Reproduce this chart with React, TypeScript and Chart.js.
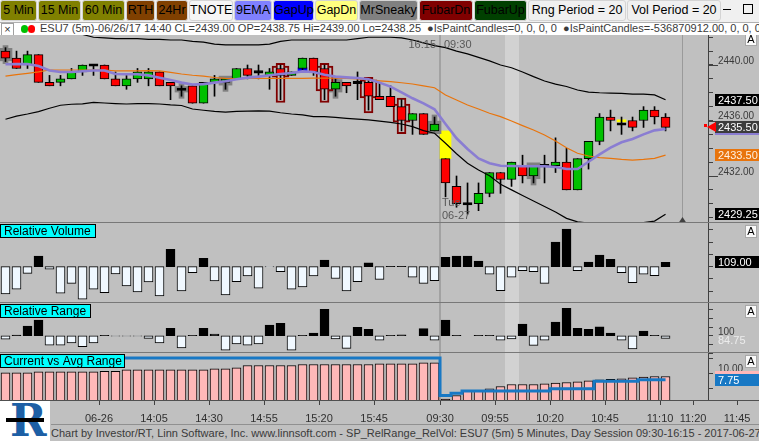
import React, { useEffect, useRef } from 'react';
import { Chart, registerables } from 'chart.js';

Chart.register(...registerables);

const FONT = '"Liberation Sans", Arial, sans-serif';

// ---------------- data (bar index 0 .. 60, 5-minute bars) ----------------
const OPEN = [
  2441.0, 2440.5, 2440.0, 2440.75, 2438.75, 2438.75, 2439.0, 2439.5, 2440.0, 2440.0,
  2439.0, 2438.5, 2439.0, 2439.0, 2439.5, 2438.75, 2438.25, 2438.5, 2437.25, 2438.75,
  2438.75, 2439.0, 2439.75, 2439.5, 2439.25, 2439.75, 2439.25, 2439.75, 2440.5, 2439.75,
  2438.25, 2438.75, 2438.75, 2438.75, 2437.75, 2437.75, 2437.0, 2436.0, 2436.5, 2435.25,
  2433.25, 2431.25, 2430.0, 2430.0, 2430.75, 2432.25, 2431.75, 2432.75, 2432.0, 2432.75,
  2432.75, 2433.0, 2431.0, 2433.25, 2434.5, 2436.25, 2435.75, 2436.0, 2436.0, 2436.75,
  2436.25,
];
const HIGH = [
  2441.25, 2441.0, 2441.0, 2440.75, 2439.25, 2439.25, 2439.75, 2440.0, 2440.0, 2440.0,
  2439.5, 2439.25, 2439.75, 2439.75, 2439.5, 2438.75, 2438.5, 2438.5, 2438.75, 2439.25,
  2439.0, 2439.75, 2440.0, 2440.0, 2439.75, 2440.0, 2439.5, 2440.5, 2440.5, 2440.0,
  2439.0, 2438.75, 2439.5, 2439.0, 2438.75, 2438.5, 2437.5, 2436.5, 2436.5, 2436.25,
  2433.25, 2432.0, 2431.5, 2431.5, 2432.25, 2432.25, 2433.0, 2433.5, 2432.75, 2433.5,
  2434.75, 2434.0, 2433.25, 2434.5, 2436.5, 2436.75, 2436.25, 2436.25, 2437.0, 2437.0,
  2436.5,
];
const LOW = [
  2440.25, 2439.75, 2439.75, 2438.75, 2438.5, 2438.5, 2439.0, 2439.25, 2439.25, 2439.0,
  2438.5, 2438.25, 2438.75, 2438.5, 2438.5, 2437.5, 2437.75, 2437.25, 2437.25, 2437.75,
  2438.25, 2439.0, 2439.0, 2439.0, 2438.25, 2437.5, 2439.25, 2439.5, 2439.25, 2437.5,
  2437.75, 2438.0, 2437.5, 2436.75, 2437.5, 2437.0, 2435.25, 2435.0, 2435.0, 2435.25,
  2430.5, 2429.75, 2429.25, 2429.5, 2430.5, 2430.75, 2431.25, 2431.5, 2431.5, 2431.5,
  2432.25, 2431.0, 2431.0, 2432.5, 2434.25, 2435.25, 2435.0, 2435.25, 2435.5, 2435.75,
  2435.25,
];
const CLOSE = [
  2440.5, 2439.75, 2440.75, 2438.75, 2438.5, 2439.0, 2439.5, 2440.0, 2440.0, 2439.0,
  2438.5, 2439.0, 2439.5, 2439.5, 2438.5, 2438.5, 2438.25, 2437.25, 2438.75, 2439.0,
  2439.0, 2439.75, 2439.25, 2439.5, 2439.5, 2439.25, 2439.5, 2440.5, 2439.5, 2438.25,
  2438.75, 2438.5, 2438.75, 2437.75, 2437.5, 2437.0, 2436.0, 2436.5, 2435.0, 2435.75,
  2431.5, 2430.0, 2430.0, 2430.75, 2432.25, 2431.75, 2433.0, 2432.0, 2432.75, 2432.75,
  2433.0, 2431.0, 2433.25, 2434.5, 2436.25, 2436.0, 2435.75, 2435.5, 2436.75, 2436.25,
  2435.5,
];
const EMA9 = [
  2440.05, 2440.06, 2440.07, 2439.93, 2439.6, 2439.5, 2439.5, 2439.55, 2439.6, 2439.6,
  2439.35, 2439.33, 2439.33, 2439.25, 2439.08, 2438.92, 2438.73, 2438.6, 2438.62, 2438.73,
  2438.83, 2438.97, 2439.09, 2439.16, 2439.26, 2439.35, 2439.42, 2439.54, 2439.5, 2439.3,
  2439.16, 2439.11, 2439.06, 2438.97, 2438.73, 2438.44, 2438.03, 2437.6, 2437.24, 2436.81,
  2435.75, 2434.72, 2433.95, 2433.27, 2432.92, 2432.74, 2432.72, 2432.7, 2432.7, 2432.7,
  2432.65, 2432.5, 2432.5, 2433.03, 2433.56, 2434.04, 2434.43, 2434.67, 2435.0, 2435.29,
  2435.39,
];
const AVG = [
  2439.2, 2439.3, 2439.4, 2439.5, 2439.64, 2439.64, 2439.64, 2439.64, 2439.64, 2439.64,
  2439.58, 2439.57, 2439.57, 2439.6, 2439.58, 2439.47, 2439.35, 2439.26, 2439.2, 2439.1,
  2439.04, 2439.0, 2439.04, 2439.04, 2439.04, 2439.04, 2439.04, 2439.04, 2439.06, 2439.05,
  2439.05, 2439.04, 2438.99, 2438.92, 2438.86, 2438.8, 2438.72, 2438.63, 2438.5, 2438.36,
  2437.84, 2437.48, 2437.12, 2436.83, 2436.52, 2436.28, 2435.96, 2435.63, 2435.32, 2434.95,
  2434.52, 2434.04, 2433.64, 2433.44, 2433.32, 2433.27, 2433.2, 2433.15, 2433.2, 2433.27,
  2433.5,
];
const UPPER = [
  2442.9, 2442.8, 2442.7, 2442.6, 2442.5, 2442.4, 2442.35, 2442.2, 2442.0, 2441.95,
  2441.9, 2441.9, 2441.9, 2441.85, 2441.85, 2441.8, 2441.8, 2441.7, 2441.65, 2441.5,
  2441.45, 2441.45, 2441.45, 2441.45, 2441.5, 2441.7, 2441.8, 2441.8, 2441.8, 2441.8,
  2441.8, 2441.8, 2441.9, 2442.0, 2442.0, 2442.0, 2441.95, 2441.8, 2441.6, 2441.4,
  2441.25, 2441.0, 2440.8, 2440.55, 2440.3, 2440.0, 2439.8, 2439.5, 2439.16, 2438.85,
  2438.62, 2438.45, 2438.2, 2438.05, 2438.0, 2437.98, 2437.95, 2437.9, 2437.9, 2437.85,
  2437.5,
];
const LOWER = [
  2436.09, 2436.32, 2436.47, 2436.64, 2436.88, 2437.1, 2437.17, 2437.2, 2437.31, 2437.26,
  2437.22, 2437.19, 2437.22, 2437.22, 2437.19, 2437.12, 2437.08, 2436.83, 2436.74, 2436.66,
  2436.61, 2436.66, 2436.68, 2436.7, 2436.68, 2436.56, 2436.47, 2436.4, 2436.28, 2436.28,
  2436.23, 2436.16, 2436.1, 2436.04, 2435.96, 2435.87, 2435.75, 2435.56, 2435.27, 2435.08,
  2434.36, 2433.6, 2432.92, 2432.43, 2432.02, 2431.4, 2431.0, 2430.6, 2430.2, 2429.8,
  2429.4, 2428.95, 2428.7, 2428.6, 2428.45, 2428.4, 2428.45, 2428.6, 2428.65, 2428.75,
  2429.25,
];
const REL_VOL = [
  44.5, 54, 86.5, 121.7, 94.7, 46, 66, 33.7, 54, 47,
  85, 60.8, 48.6, 69, 40.4, 135.4, 50.6, 87.8, 117, 71,
  42.5, 69.5, 81, 56, 99.5, 90, 54, 59, 81, 113.6,
  76, 50.6, 69.5, 108, 74, 100.5, 100.5, 78.5, 66, 71.5,
  119, 121.7, 121.7, 111.6, 84.5, 51, 78.5, 92, 90, 66,
  150, 176.6, 92, 109.6, 123.8, 115, 87.8, 67.5, 84.5, 81.7,
  109,
];
const REL_RANGE = [
  80.8, 104, 156, 191, 46, 46, 59, 36, 59, 103,
  97, 97, 97, 85, 59, 143, 30, 103, 143, 110,
  17, 52, 46, 52, 162, 172, 17, 103, 116, 253,
  81, 27, 149, 137, 75, 103, 106, 100, 141, 75,
  191, 103, 100, 103, 103, 75, 81, 168, 44, 75,
  180, 259, 143, 137, 152, 116, 75, 23, 127, 103,
  84.75,
];
const AVG_RANGE = [
  10.07, 10.07, 10.07, 10.4, 10.4, 10.4, 10.4, 10.4, 10.4, 10.6,
  10.6, 11.07, 11.07, 11.07, 11.07, 11.07, 11.07, 11.07, 11.07, 11.4,
  11.4, 11.73, 12.5, 12.5, 12.5, 12.5, 12.5, 12.83, 12.83, 12.83,
  12.83, 12.83, 12.83, 12.83, 13.07, 13.07, 13.07, 13.07, 13.4, 13.4,
  1.3, 2.5, 3.93, 3.93, 4.73, 5.5, 6.17, 6.17, 6.17, 6.4,
  6.6, 6.83, 7.07, 7.4, 7.73, 7.93, 8.07, 8.4, 8.6, 8.83,
  8.83,
];
const DAY_RANGE = [
  15.0, 15.0, 15.0, 15.0, 15.0, 15.0, 15.0, 15.0, 15.0, 15.0,
  15.0, 15.0, 15.0, 15.0, 15.0, 15.0, 15.0, 15.0, 15.0, 15.0,
  15.0, 15.0, 15.0, 15.0, 15.0, 15.0, 15.0, 15.0, 15.0, 15.0,
  15.0, 15.0, 15.0, 15.0, 15.0, 15.0, 15.0, 15.0, 15.0, 15.0,
  2.5, 3.25, 4.0, 4.0, 4.0, 4.0, 4.0, 4.0, 4.0, 4.0,
  4.75, 4.75, 4.75, 4.75, 7.25, 7.25, 7.25, 7.25, 7.75, 7.75,
  7.75,
];
const SNEAKY_BARS = [0, 16, 20, 30, 39, 48];
const FUBAR_DN_BARS = [25, 29, 33, 36];
const GAP_DN_BARS = [40];
const SIGNAL_BARS = [27, 56];
const SIGNAL_LO = [2439.5, 2435.9];
const SIGNAL_HI = [2439.8, 2436.05];
const SIGNAL_COLORS = ['#0000ff', '#ffff00'];

const X_TICK_POS = [8.5, 13.5, 18.5, 23.5, 28.5, 33.5, 39.5, 44.5, 49.5, 54.5, 59.5, 62.5, 66.5];
const X_TICK_LABELS = ['06-26', '14:05', '14:30', '14:55', '15:20', '15:45', '09:30', '09:55', '10:20', '10:45', '11:10', '11:20', '11:45'];
const PRICE_LABEL_EVERY = 4;
const SESSION_BREAK = 39.5;
const CURSOR_BAR = 46;
const NOW_POS = 61.5;

const UP = '#00c000';
const DOWN = '#ff0000';
const PANEL_BG = '#c0c0c0';

function buildConfig(): any {
  const idx = OPEN.map((_, i) => i);
  const lo = idx.map((i) => Math.min(OPEN[i], CLOSE[i]));
  const hi = idx.map((i) => Math.max(OPEN[i], CLOSE[i]));
  const DOJI = 0.09;
  const bodies = idx.map((i) => ({ x: i, y: lo[i] === hi[i] ? [lo[i] - DOJI, hi[i] + DOJI] : [lo[i], hi[i]] }));
  const bodyColors = idx.map((i) => (CLOSE[i] > OPEN[i] ? UP : CLOSE[i] < OPEN[i] ? DOWN : '#000000'));
  const wicks = idx.map((i) => ({ x: i, y: [LOW[i], HIGH[i]] }));
  const sneakyBody = SNEAKY_BARS.map((i) => ({ x: i, y: [lo[i] - 0.2, hi[i] + 0.2] }));
  const sneakyWick = SNEAKY_BARS.map((i) => ({ x: i, y: [LOW[i] - 0.15, HIGH[i] + 0.15] }));
  const fubarBody = FUBAR_DN_BARS.map((i) => ({ x: i, y: [lo[i] - 0.12, hi[i] + 0.18] }));
  const fubarWick = FUBAR_DN_BARS.map((i) => ({ x: i, y: [LOW[i] - 0.2, HIGH[i] + 0.12] }));
  const gaps = GAP_DN_BARS.map((i) => ({ x: i, y: [HIGH[i], LOW[i - 1]] }));
  const signals = SIGNAL_BARS.map((b, k) => ({ x: b, y: [SIGNAL_LO[k], SIGNAL_HI[k]] }));
  const line = (arr: number[]) => arr.map((v, i) => ({ x: i, y: v }));
  const rel = (arr: number[]) => arr.map((v, i) => ({ x: i, y: [100, v] }));
  const relColors = (arr: number[]) => arr.map((v) => (v >= 100 ? '#000000' : '#f0f8ff'));

  const bar = (extra: any) => ({ type: 'bar', grouped: false, borderSkipped: false, ...extra });
  const ln = (extra: any) => ({ type: 'line', pointRadius: 0, tension: 0, order: 0, ...extra });

  const datasets: any[] = [
    ln({ data: line(EMA9), borderColor: '#8a7dd2', borderWidth: 2.6, yAxisID: 'yP' }),
    ln({ data: line(AVG), borderColor: '#e8740c', borderWidth: 1.2, yAxisID: 'yP' }),
    ln({ data: line(UPPER), borderColor: '#000000', borderWidth: 1.2, yAxisID: 'yP' }),
    ln({ data: line(LOWER), borderColor: '#000000', borderWidth: 1.2, yAxisID: 'yP' }),
    bar({ data: bodies, backgroundColor: bodyColors, borderColor: '#000000', borderWidth: 1, barThickness: 9, yAxisID: 'yP', order: 1 }),
    bar({ data: wicks, backgroundColor: '#000000', borderWidth: 0, barThickness: 1, yAxisID: 'yP', order: 2 }),
    bar({ data: fubarWick, backgroundColor: PANEL_BG, borderColor: '#800000', borderWidth: 2, barThickness: 9, yAxisID: 'yP', order: 3 }),
    bar({ data: fubarBody, backgroundColor: PANEL_BG, borderColor: '#800000', borderWidth: 2, barThickness: 17, yAxisID: 'yP', order: 4 }),
    bar({ data: sneakyBody, backgroundColor: '#808080', borderWidth: 0, barThickness: 13, yAxisID: 'yP', order: 5 }),
    bar({ data: sneakyWick, backgroundColor: '#808080', borderWidth: 0, barThickness: 5, yAxisID: 'yP', order: 5 }),
    bar({ data: gaps, backgroundColor: '#ffff00', borderWidth: 0, barThickness: 11, yAxisID: 'yP', order: 6 }),
    bar({ data: signals, backgroundColor: SIGNAL_COLORS, borderWidth: 0, barThickness: 9, yAxisID: 'yP', order: 6 }),
    bar({ data: rel(REL_VOL), backgroundColor: relColors(REL_VOL), borderColor: '#000000', borderWidth: 1, barThickness: 9, yAxisID: 'yRV', order: 1 }),
    bar({ data: rel(REL_RANGE), backgroundColor: relColors(REL_RANGE), borderColor: '#000000', borderWidth: 1, barThickness: 9, yAxisID: 'yRR', order: 1 }),
    ln({ data: line(DAY_RANGE), borderColor: '#1878c4', borderWidth: 3, stepped: 'middle', yAxisID: 'yCV' }),
    bar({ data: AVG_RANGE.map((v, i) => ({ x: i, y: v })), backgroundColor: '#ffb8b8', borderColor: '#000000', borderWidth: 1, barThickness: 9, yAxisID: 'yCV', order: 1 }),
  ];

  const tickFont = { size: 10, family: FONT };
  const rightAxis = (weight: number, min: number, max: number, step: number, label: (v: number) => string) => ({
    type: 'linear',
    position: 'right',
    stack: 'panels',
    stackWeight: weight,
    min,
    max,
    offset: false,
    grid: { drawOnChartArea: false, drawTicks: true, tickLength: 5, tickColor: '#404040', offset: false },
    border: { display: true, color: '#404040' },
    ticks: {
      stepSize: step,
      autoSkip: false,
      includeBounds: false,
      padding: 5,
      labelOffset: -4,
      color: '#3a3a3a',
      font: tickFont,
      callback: (v: number) => label(v),
    },
    afterFit: (s: any) => {
      s.width = 51;
      s.paddingTop = 0;
      s.paddingBottom = 0;
      s.paddingLeft = 0;
      s.paddingRight = 0;
    },
  });

  const valueBox = (ctx: any, a: any, W: number, scale: any, v: number, text: string, bg: string, fg: string) => {
    const y = Math.round(scale.getPixelForValue(v));
    ctx.fillStyle = bg;
    ctx.fillRect(a.right + 7, y - 6, W - a.right - 7, 12);
    if (text) {
      ctx.fillStyle = fg;
      ctx.font = `11px ${FONT}`;
      ctx.textAlign = 'left';
      ctx.textBaseline = 'middle';
      ctx.fillText(text, a.right + 10, y + 0.5);
    }
  };

  const decor = {
    id: 'decor',
    beforeDatasetsDraw(chart: any) {
      const { ctx, chartArea: a, scales } = chart;
      const x = scales.x;
      const yP = scales.yP;
      ctx.save();
      const cx = x.getPixelForValue(CURSOR_BAR);
      ctx.fillStyle = '#d2d2d2';
      ctx.fillRect(Math.round(cx - 7), a.top, 14, a.bottom - a.top);
      const sx = Math.round(x.getPixelForValue(SESSION_BREAK));
      ctx.fillStyle = '#a2a2a2';
      ctx.fillRect(sx - 1, a.top, 2, a.bottom - a.top);
      const nx = Math.round(x.getPixelForValue(NOW_POS)) + 0.5;
      ctx.strokeStyle = '#9a9a9a';
      ctx.lineWidth = 1;
      ctx.beginPath();
      ctx.moveTo(nx, yP.top);
      ctx.lineTo(nx, yP.bottom);
      ctx.stroke();
      ctx.fillStyle = '#404040';
      ctx.beginPath();
      ctx.moveTo(nx, yP.bottom - 6);
      ctx.lineTo(nx - 4, yP.bottom);
      ctx.lineTo(nx + 4, yP.bottom);
      ctx.closePath();
      ctx.fill();
      ctx.restore();
    },
    beforeDatasetDraw(chart: any, args: any) {
      const { ctx, chartArea: a } = chart;
      const ys = chart.scales[args.meta.yAxisID];
      ctx.save();
      ctx.beginPath();
      ctx.rect(a.left, ys.top, a.right - a.left, ys.bottom - ys.top);
      ctx.clip();
    },
    afterDatasetDraw(chart: any) {
      chart.ctx.restore();
    },
    afterDraw(chart: any) {
      const { ctx, chartArea: a, scales } = chart;
      const W = chart.width;
      const { x, yP, yRV, yRR, yCV } = scales;
      ctx.save();
      ctx.fillStyle = '#787878';
      [yRV.top, yRR.top, yCV.top].forEach((t: number) => ctx.fillRect(0, Math.round(t) - 1, W, 1));
      ctx.fillStyle = '#505050';
      ctx.fillRect(0, Math.round(a.bottom), W, 1);
      ctx.fillStyle = '#404040';
      yP.ticks.forEach((t: any) => {
        if (t.value % PRICE_LABEL_EVERY === 0) ctx.fillRect(a.right, Math.round(yP.getPixelForValue(t.value)), 10, 1);
      });
      valueBox(ctx, a, W, yP, UPPER[UPPER.length - 1], UPPER[UPPER.length - 1].toFixed(2), '#000000', '#ffffff');
      valueBox(ctx, a, W, yP, EMA9[EMA9.length - 1], '', '#8a7dd2', '#ffffff');
      valueBox(ctx, a, W, yP, CLOSE[CLOSE.length - 1], CLOSE[CLOSE.length - 1].toFixed(2), '#3c3c3c', '#ffffff');
      valueBox(ctx, a, W, yP, AVG[AVG.length - 1], AVG[AVG.length - 1].toFixed(2), '#e8740c', '#fff0e0');
      valueBox(ctx, a, W, yP, LOWER[LOWER.length - 1], LOWER[LOWER.length - 1].toFixed(2), '#000000', '#ffffff');
      const cy = Math.round(yP.getPixelForValue(CLOSE[CLOSE.length - 1]));
      ctx.fillStyle = '#ff0000';
      ctx.beginPath();
      ctx.moveTo(a.right - 1, cy);
      ctx.lineTo(a.right + 8, cy - 5);
      ctx.lineTo(a.right + 8, cy + 5);
      ctx.closePath();
      ctx.fill();
      ctx.fillRect(a.right - 4, cy - 3, 3, 3);
      valueBox(ctx, a, W, yRV, REL_VOL[REL_VOL.length - 1], REL_VOL[REL_VOL.length - 1].toFixed(2), '#000000', '#ffffff');
      const rry = Math.round(yRR.getPixelForValue(REL_RANGE[REL_RANGE.length - 1]));
      ctx.fillStyle = '#ececec';
      ctx.font = `11px ${FONT}`;
      ctx.textAlign = 'left';
      ctx.textBaseline = 'middle';
      ctx.fillText(REL_RANGE[REL_RANGE.length - 1].toFixed(2), a.right + 10, rry + 3);
      valueBox(ctx, a, W, yCV, AVG_RANGE[AVG_RANGE.length - 1], '', '#ffb8b8', '#000000');
      valueBox(ctx, a, W, yCV, DAY_RANGE[DAY_RANGE.length - 1], DAY_RANGE[DAY_RANGE.length - 1].toFixed(2), '#1878c4', '#ffffff');
      const title = (t: string, top: number, w: number) => {
        ctx.fillStyle = '#00ffff';
        ctx.fillRect(0, top + 1, w, 14);
        ctx.strokeStyle = '#000000';
        ctx.lineWidth = 1;
        ctx.strokeRect(0.5, top + 1.5, w - 1, 13);
        ctx.fillStyle = '#000000';
        ctx.font = `12px ${FONT}`;
        ctx.textAlign = 'left';
        ctx.textBaseline = 'middle';
        ctx.fillText(t, 4, top + 8.5);
      };
      title('Relative Volume', Math.round(yRV.top), 96);
      title('Relative Range', Math.round(yRR.top), 91);
      title('Current vs Avg Range', Math.round(yCV.top), 125);
      const aBox = (top: number) => {
        ctx.fillStyle = '#fafafa';
        ctx.fillRect(W - 14, top, 12, 13);
        ctx.strokeStyle = '#a8a8a8';
        ctx.strokeRect(W - 13.5, top + 0.5, 11, 12);
        ctx.fillStyle = '#000000';
        ctx.font = `11px ${FONT}`;
        ctx.textAlign = 'center';
        ctx.textBaseline = 'middle';
        ctx.fillText('A', W - 8, top + 7);
      };
      aBox(Math.round(yP.top) - 2);
      aBox(Math.round(yRV.top) + 2);
      aBox(Math.round(yRR.top) + 2);
      aBox(Math.round(yCV.top) + 2);
      const sx = Math.round(x.getPixelForValue(SESSION_BREAK));
      ctx.fillStyle = '#585858';
      ctx.font = `11px ${FONT}`;
      ctx.textBaseline = 'middle';
      ctx.textAlign = 'right';
      ctx.fillText('16:15', sx - 4, yP.top + 10);
      ctx.textAlign = 'left';
      ctx.fillText('09:30', sx + 4, yP.top + 10);
      ctx.fillText('Tue', sx + 2, yP.bottom - 20);
      ctx.fillText('06-27', sx + 2, yP.bottom - 7);
      ctx.restore();
    },
  };

  return {
    type: 'line',
    data: { datasets },
    plugins: [decor],
    options: {
      responsive: false,
      maintainAspectRatio: false,
      devicePixelRatio: 1,
      animation: false,
      events: [],
      layout: { padding: 0 },
      plugins: { legend: { display: false }, tooltip: { enabled: false } },
      scales: {
        x: {
          type: 'linear',
          min: -0.5,
          max: 63.86,
          offset: false,
          bounds: 'data',
          afterBuildTicks: (s: any) => {
            s.ticks = X_TICK_POS.map((v) => ({ value: v }));
          },
          grid: { drawOnChartArea: false, drawTicks: true, tickLength: 5, tickColor: '#404040', offset: false },
          border: { display: false },
          ticks: {
            autoSkip: false,
            maxRotation: 0,
            padding: 7,
            color: '#303030',
            font: { size: 11, family: FONT },
            callback: (_v: number, i: number) => X_TICK_LABELS[i] ?? '',
          },
          afterFit: (s: any) => {
            s.height = 24;
            s.paddingLeft = 0;
            s.paddingRight = 0;
            s.paddingTop = 0;
            s.paddingBottom = 0;
          },
        },
        yP: rightAxis(188, 2428.613, 2442.162, 1, (v) => (v % PRICE_LABEL_EVERY === 0 ? v.toFixed(2) : '')),
        yRV: rightAxis(80, 26, 189, 25, () => ''),
        yRR: rightAxis(50, 0, 290, 50, (v) => (v === 100 ? '100' : '')),
        yCV: rightAxis(47, 1, 16.67, 5, (v) => (v === 10 ? '10.00' : '')),
      },
    },
  };
}

const TOOLBAR: [string, number, string, string][] = [
  ['5 Min', 37, '#808000', '#000000'],
  ['15 Min', 43, '#808000', '#000000'],
  ['60 Min', 43, '#808000', '#000000'],
  ['RTH', 29, '#804000', '#000000'],
  ['24Hr', 32, '#804000', '#000000'],
  ['TNOTE', 44, '#f6f6f6', '#000000'],
  ['9EMA', 38, '#8080ff', '#000000'],
  ['GapUp', 41, '#0000ff', '#000000'],
  ['GapDn', 43, '#ffff80', '#000000'],
  ['MrSneaky', 59, '#808080', '#000000'],
  ['FubarDn', 54, '#800000', '#000000'],
  ['FubarUp', 53, '#004000', '#000000'],
  ['Rng Period = 20', 98, '#f0f0f0', '#000000'],
  ['Vol Period = 20', 94, '#f0f0f0', '#000000'],
];

export default function App() {
  const canvasRef = useRef<HTMLCanvasElement | null>(null);

  useEffect(() => {
    document.body.style.margin = '0';
    const canvas = canvasRef.current;
    if (!canvas) return;
    const chart = new Chart(canvas, buildConfig());
    return () => chart.destroy();
  }, []);

  let left = 0;
  const buttons = TOOLBAR.map(([label, w, bg, fg]) => {
    const el = (
      <div
        key={label}
        style={{
          position: 'absolute', left, top: 0, width: w, height: 21, boxSizing: 'border-box',
          background: bg, color: fg, border: '1px solid #d4d4d4', borderRadius: 3,
          font: `12.5px ${FONT}`, lineHeight: '19px', textAlign: 'center', whiteSpace: 'nowrap', overflow: 'visible',
        }}
      >
        {label}
      </div>
    );
    left += w + 1;
    return el;
  });

  return (
    <div style={{ position: 'relative', width: 759, height: 441, background: PANEL_BG, overflow: 'hidden', fontFamily: FONT }}>
      <div style={{ position: 'absolute', left: 0, top: 0, width: 759, height: 22, background: '#f0f0f0' }}>
        {buttons}
        <div style={{ position: 'absolute', left: 723, top: 9, width: 8, height: 1, background: '#000' }} />
        <div style={{ position: 'absolute', left: 743, top: 4, width: 8, height: 8, border: '1px solid #000' }} />
      </div>
      <div
        style={{
          position: 'absolute', left: 0, top: 22, width: 759, height: 13, background: '#ffffff',
          boxSizing: 'border-box', borderTop: '1px solid #b0b0b0', overflow: 'hidden', whiteSpace: 'nowrap',
        }}
      >
        <div style={{ position: 'absolute', left: 1, top: 0, width: 11, height: 11, border: '1px solid #a0a0a0', font: `11px ${FONT}`, lineHeight: '10px', textAlign: 'center', color: '#333' }}>×</div>
        <div style={{ position: 'absolute', left: 21, top: 2, width: 7, height: 8, borderRadius: 4, background: '#00c000' }} />
        <div style={{ position: 'absolute', left: 28, top: 2, width: 7, height: 8, borderRadius: 4, background: '#ff0000' }} />
        <div style={{ position: 'absolute', left: 40, top: -1, font: `11px ${FONT}`, color: '#3a3a3a', lineHeight: '13px' }}>
          ESU7 (5m)-06/26/17 14:40 CL=2439.00 OP=2438.75 Hi=2439.00 Lo=2438.25 &nbsp;●IsPaintCandles=0, 0, 0, 0 &nbsp;●IsPaintCandles=-536870912.00, 0, 0, 0
        </div>
      </div>
      <canvas ref={canvasRef} width={759} height={389} style={{ position: 'absolute', left: 0, top: 35, width: 759, height: 389 }} />
      <div
        style={{
          position: 'absolute', left: 51, top: 424, width: 708, height: 17, boxSizing: 'border-box', borderTop: '1px solid #909090',
          font: `11px ${FONT}`, color: '#3a3a3a', lineHeight: '16px', whiteSpace: 'nowrap', overflow: 'hidden',
        }}
      >
        Chart by Investor/RT, Linn Software, Inc. www.linnsoft.com - SP_RelRange_RelVol: ESU7 (5m) 5 Minutes, Day Session 09:30-16:15 - 2017-06-27 11:14:52
      </div>
      <div style={{ position: 'absolute', left: 0, top: 401, width: 50, height: 40, background: '#ffffff', overflow: 'hidden' }}>
        <div style={{ position: 'absolute', left: 10, top: -4, font: `bold 44px "DejaVu Serif", serif`, color: '#1d5fa5', lineHeight: '48px' }}>R</div>
        <div style={{ position: 'absolute', left: 6, top: 17, width: 38, height: 4, background: '#000' }} />
      </div>
    </div>
  );
}
